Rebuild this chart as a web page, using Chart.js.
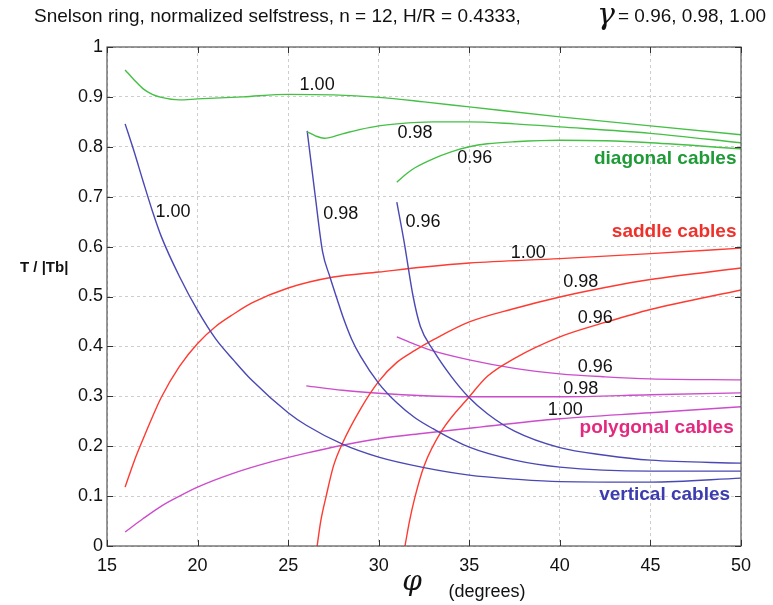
<!DOCTYPE html>
<html>
<head>
<meta charset="utf-8">
<script src="https://cdn.jsdelivr.net/npm/chart.js@4"></script>
<style>
  html, body { margin: 0; padding: 0; background: #fff; }
  #wrap { width: 773px; height: 605px; position: relative; }
</style>
</head>
<body>
<div id="wrap"><canvas id="c" width="773" height="605"></canvas></div>
<script>
// ---- Data ----
const xTicks = [15, 20, 25, 30, 35, 40, 45, 50];
const yTicks = [0, 0.1, 0.2, 0.3, 0.4, 0.5, 0.6, 0.7, 0.8, 0.9, 1];
const yTickLabels = ['0', '0.1', '0.2', '0.3', '0.4', '0.5', '0.6', '0.7', '0.8', '0.9', '1'];

// diagonal cables (green)
const diag100X = [16, 16.5, 17, 17.5, 18, 19, 20, 22.5, 25, 27.5, 30, 32.5, 35, 40, 45, 50];
const diag100Y = [0.954, 0.934, 0.916, 0.905, 0.899, 0.894, 0.896, 0.900, 0.905, 0.904, 0.899, 0.890, 0.880, 0.860, 0.842, 0.824];
const diag098X = [26.05, 26.5, 27.0, 28, 29, 30, 31, 33, 35, 37.5, 40, 45, 50];
const diag098Y = [0.830, 0.822, 0.817, 0.826, 0.835, 0.842, 0.846, 0.850, 0.850, 0.846, 0.840, 0.827, 0.808];
const diag096X = [31.0, 31.5, 32, 33, 34, 35, 36, 37.5, 40, 42.5, 45, 50];
const diag096Y = [0.729, 0.745, 0.758, 0.776, 0.790, 0.800, 0.806, 0.810, 0.813, 0.812, 0.808, 0.796];

// vertical cables (blue)
const vert100X = [16, 16.5, 17, 17.5, 18, 19, 20, 21, 22, 23, 25, 26, 28, 30, 32.5, 35, 37.5, 40, 45, 50];
const vert100Y = [0.846, 0.79, 0.73, 0.672, 0.62, 0.54, 0.472, 0.415, 0.372, 0.332, 0.267, 0.242, 0.204, 0.178, 0.157, 0.142, 0.134, 0.129, 0.128, 0.136];
const vert098X = [26.05, 26.5, 26.9, 27.3, 27.7, 28, 28.5, 29, 30, 31, 32, 33, 35, 37.5, 40, 45, 50];
const vert098Y = [0.832, 0.70, 0.59, 0.54, 0.495, 0.462, 0.415, 0.38, 0.326, 0.287, 0.257, 0.235, 0.198, 0.172, 0.158, 0.150, 0.150];
const vert096X = [31.0, 31.4, 31.9, 32.3, 33, 34, 35, 36, 37.5, 40, 42.5, 45, 50];
const vert096Y = [0.689, 0.61, 0.50, 0.44, 0.393, 0.34, 0.297, 0.265, 0.230, 0.197, 0.182, 0.172, 0.166];

// saddle cables (red)
const sadd100X = [16, 16.5, 17, 17.5, 18, 19, 20, 21, 22, 23, 25, 27.5, 30, 32.5, 35, 40, 45, 50];
const sadd100Y = [0.118, 0.170, 0.215, 0.258, 0.298, 0.360, 0.406, 0.440, 0.465, 0.487, 0.517, 0.539, 0.549, 0.559, 0.567, 0.576, 0.586, 0.597];
const sadd098X = [26.6, 26.8, 27.1, 27.5, 28, 29, 30, 31, 32, 33, 35, 37.5, 40, 42.5, 45, 50];
const sadd098Y = [0.0, 0.05, 0.10, 0.16, 0.206, 0.275, 0.330, 0.368, 0.392, 0.413, 0.449, 0.476, 0.499, 0.518, 0.534, 0.557];
const sadd096X = [31.45, 31.7, 32.0, 32.5, 33.5, 35, 36, 37.5, 40, 42.5, 45, 50];
const sadd096Y = [0.0, 0.05, 0.098, 0.16, 0.232, 0.299, 0.34, 0.376, 0.419, 0.448, 0.474, 0.513];

// polygonal cables (magenta)
const poly100X = [16, 17, 18, 19, 20, 22, 24, 26, 28, 30, 32.5, 35, 40, 45, 50];
const poly100Y = [0.028, 0.055, 0.08, 0.10, 0.118, 0.146, 0.168, 0.186, 0.202, 0.215, 0.226, 0.236, 0.255, 0.267, 0.279];
const poly098X = [26.0, 28, 30, 32.5, 35, 40, 45, 50];
const poly098Y = [0.321, 0.312, 0.306, 0.301, 0.299, 0.299, 0.303, 0.307];
const poly096X = [31.0, 32, 33, 35, 37.5, 40, 42.5, 45, 50];
const poly096Y = [0.419, 0.404, 0.391, 0.373, 0.356, 0.345, 0.339, 0.335, 0.333];

// curve annotations (text and data coordinates)
const curveLabelText = ['1.00', '0.98', '0.96', '1.00', '0.98', '0.96', '1.00', '0.98', '0.96', '0.96', '0.98', '1.00'];
const curveLabelX = [26.6, 32.0, 35.3, 18.65, 27.9, 32.45, 38.25, 41.15, 41.95, 41.95, 41.15, 40.3];
const curveLabelY = [0.924, 0.828, 0.778, 0.669, 0.665, 0.649, 0.587, 0.529, 0.457, 0.359, 0.315, 0.273];

const groupLabelText = ['diagonal cables', 'saddle cables', 'polygonal cables', 'vertical cables'];
const groupLabelX = [49.75, 49.75, 49.6, 49.4];
const groupLabelY = [0.777, 0.629, 0.237, 0.103];

// ---- Styles ----
const GREEN = '#45c045', RED = '#ff3a30', BLUE = '#4a48b4', MAG = '#cc4ccc';
const GREEN_T = '#1e9a36', RED_T = '#f0302a', BLUE_T = '#3c3cb0', MAG_T = '#e4287e';
const groupLabelColor = [GREEN_T, RED_T, MAG_T, BLUE_T];

function pts(xs, ys) { return xs.map((x, i) => ({ x: x, y: ys[i] })); }
function ds(xs, ys, color) {
  return {
    data: pts(xs, ys), borderColor: color, borderWidth: 1.4, showLine: true,
    pointRadius: 0, fill: false, cubicInterpolationMode: 'monotone'
  };
}

const datasets = [
  ds(diag100X, diag100Y, GREEN), ds(diag098X, diag098Y, GREEN), ds(diag096X, diag096Y, GREEN),
  ds(vert100X, vert100Y, BLUE), ds(vert098X, vert098Y, BLUE), ds(vert096X, vert096Y, BLUE),
  ds(sadd100X, sadd100Y, RED), ds(sadd098X, sadd098Y, RED), ds(sadd096X, sadd096Y, RED),
  ds(poly100X, poly100Y, MAG), ds(poly098X, poly098Y, MAG), ds(poly096X, poly096Y, MAG)
];

const FONT = "'Liberation Sans', Arial, sans-serif";

const decor = {
  id: 'decor',
  afterDatasetsDraw(chart) {
    const ctx = chart.ctx, a = chart.chartArea;
    const xs = chart.scales.x, ys = chart.scales.y;
    ctx.save();
    // box
    ctx.strokeStyle = '#555';
    ctx.lineWidth = 1.2;
    ctx.strokeRect(a.left, a.top, a.right - a.left, a.bottom - a.top);
    // inside tick marks
    ctx.strokeStyle = '#333';
    ctx.lineWidth = 1;
    const L = 6;
    ctx.beginPath();
    xTicks.forEach(v => {
      const px = Math.round(xs.getPixelForValue(v)) + 0.5;
      ctx.moveTo(px, a.top); ctx.lineTo(px, a.top + L);
      ctx.moveTo(px, a.bottom); ctx.lineTo(px, a.bottom - L);
    });
    yTicks.forEach(v => {
      const py = Math.round(ys.getPixelForValue(v)) + 0.5;
      ctx.moveTo(a.left, py); ctx.lineTo(a.left + L, py);
      ctx.moveTo(a.right, py); ctx.lineTo(a.right - L, py);
    });
    ctx.stroke();

    // curve labels
    ctx.fillStyle = '#111';
    ctx.font = '18px ' + FONT;
    ctx.textAlign = 'center';
    ctx.textBaseline = 'middle';
    curveLabelText.forEach((t, i) => {
      ctx.fillText(t, xs.getPixelForValue(curveLabelX[i]), ys.getPixelForValue(curveLabelY[i]));
    });
    // group labels
    ctx.font = 'bold 19px ' + FONT;
    ctx.textAlign = 'right';
    groupLabelText.forEach((t, i) => {
      ctx.fillStyle = groupLabelColor[i];
      ctx.fillText(t, xs.getPixelForValue(groupLabelX[i]), ys.getPixelForValue(groupLabelY[i]));
    });

    // title
    ctx.fillStyle = '#111';
    ctx.textAlign = 'left';
    ctx.textBaseline = 'alphabetic';
    ctx.font = '19px ' + FONT;
    ctx.fillText('Snelson ring, normalized selfstress, n = 12, H/R = 0.4333,', 34, 22, 494);
    ctx.font = 'italic 30px "DejaVu Serif", serif';
    ctx.fillText('\u03B3', 597, 24);
    ctx.font = '19px ' + FONT;
    ctx.fillText('= 0.96, 0.98, 1.00', 618, 22, 148);

    // y axis title
    ctx.font = 'bold 15px ' + FONT;
    ctx.textBaseline = 'middle';
    ctx.fillText('T / |Tb|', 20, 268);

    // x axis title
    ctx.font = 'italic 28px "DejaVu Serif", serif';
    ctx.textAlign = 'center';
    ctx.fillText('\u03C6', 412, 583);
    ctx.font = '18px ' + FONT;
    ctx.fillText('(degrees)', 487, 592);
    ctx.restore();
  }
};

new Chart(document.getElementById('c'), {
  type: 'scatter',
  data: { datasets: datasets },
  options: {
    responsive: false,
    animation: false,
    layout: { padding: { top: 47, right: 32, left: 0, bottom: 0 } },
    plugins: { legend: { display: false }, tooltip: { enabled: false }, title: { display: false } },
    scales: {
      x: {
        type: 'linear', min: 15, max: 50,
        afterFit: s => { s.height = 59; },
        afterBuildTicks: s => { s.ticks = xTicks.map(v => ({ value: v })); },
        ticks: { color: '#111', font: { size: 18, family: FONT }, padding: 9, maxRotation: 0, autoSkip: false,
                 callback: v => String(v) },
        grid: { color: '#cdcdcd', lineWidth: 1, drawTicks: false },
        border: { display: false, dash: [3, 3] }
      },
      y: {
        type: 'linear', min: 0, max: 1,
        afterFit: s => { s.width = 107; },
        afterBuildTicks: s => { s.ticks = yTicks.map(v => ({ value: v })); },
        ticks: { color: '#111', font: { size: 18, family: FONT }, padding: 4, autoSkip: false,
                 callback: (v) => { const i = yTicks.findIndex(t => Math.abs(t - v) < 1e-9); return i >= 0 ? yTickLabels[i] : ''; } },
        grid: { color: '#cdcdcd', lineWidth: 1, drawTicks: false },
        border: { display: false, dash: [3, 3] }
      }
    }
  },
  plugins: [decor]
});
</script>
</body>
</html>
